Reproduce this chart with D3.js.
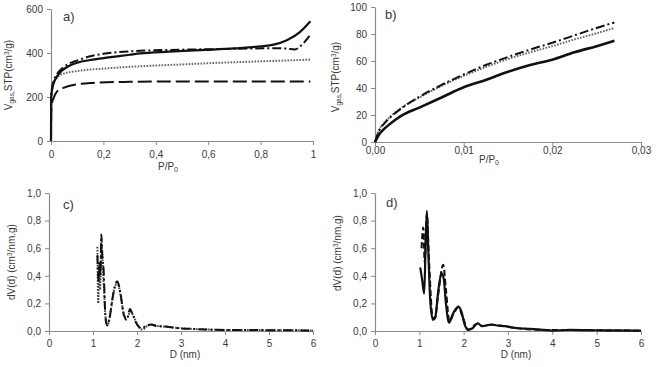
<!DOCTYPE html>
<html><head><meta charset="utf-8">
<script src="https://cdn.jsdelivr.net/npm/d3@7"></script>
<style>
body{margin:0;background:#fff;}
text{font-family:"Liberation Sans",Arial,sans-serif;fill:#3a3a3a;}
</style></head>
<body>
<svg id="chart" width="656" height="367"></svg>
<script>
// ---- Panel a: isotherms (P/P0, V cm3/g)
const aSolid = [[0,0],[0.0005,170],[0.001,205],[0.005,240],[0.01,262],[0.02,288],[0.04,318],[0.06,335],[0.085,350],[0.1,356],[0.15,368],[0.2,377],[0.3,392],[0.34,398],[0.45,406],[0.59,414],[0.7,421],[0.8,430],[0.85,438],[0.9,458],[0.95,495],[0.99,544]];
const aDashDot = [[0,0],[0.0005,180],[0.002,225],[0.01,272],[0.03,315],[0.05,338],[0.085,360],[0.1,366],[0.15,385],[0.21,398],[0.34,410],[0.45,414],[0.59,417],[0.7,419],[0.85,422],[0.9,420],[0.93,416],[0.96,440],[0.99,484]];
const aDotted = [[0,0],[0.0005,150],[0.002,200],[0.009,262],[0.02,285],[0.047,306],[0.1,318],[0.21,330],[0.3,337],[0.4,343],[0.5,348],[0.59,353],[0.7,358],[0.8,362],[0.9,366],[0.99,370]];
const aLongDash = [[0,0],[0.0005,120],[0.003,165],[0.01,195],[0.022,223],[0.05,243],[0.085,255],[0.16,264],[0.3,269],[0.5,271],[0.7,271],[0.99,271]];
const aXTicks = [0,0.2,0.4,0.6,0.8,1];
const aYTicks = [0,200,400,600];

// ---- Panel b: low-pressure isotherms
const bP = [0,0.0005,0.001,0.002,0.003,0.005,0.0075,0.01,0.0125,0.015,0.0175,0.02,0.0225,0.025,0.027];
const bSolid = [0,6,9.5,15,19.5,25.5,33,40.5,46,52,57,61,66.5,71,75];
const bDotted = [0,9.5,13.9,20.4,25.5,33,41.5,49,55.5,61.5,66.5,71,76,80.5,84.5];
const bDashDot = [0,9,13.3,19.9,25,33.5,42.3,50,57,63,68.5,73.5,79,84.5,88.5];
const bXTicks = [0,0.01,0.02,0.03];
const bYTicks = [0,20,40,60,80,100];

// ---- Panel c: pore size distribution
const cDashDot = [[1.1,0.55],[1.13,0.35],[1.15,0.5],[1.17,0.4],[1.19,0.7],[1.21,0.55],[1.24,0.45],[1.28,0.12],[1.32,0.04],[1.38,0.1],[1.45,0.25],[1.55,0.36],[1.62,0.28],[1.7,0.12],[1.77,0.08],[1.84,0.16],[1.9,0.12],[1.98,0.06],[2.1,0.02],[2.2,0.035],[2.32,0.048],[2.45,0.035],[2.65,0.033],[2.8,0.025],[3.0,0.018],[3.3,0.015],[3.6,0.01],[4.0,0.008],[4.5,0.008],[5.0,0.006],[5.5,0.005],[6.0,0.004]];
const cDotted = [[1.1,0.61],[1.12,0.2],[1.14,0.5],[1.16,0.3],[1.19,0.65],[1.22,0.5],[1.25,0.3],[1.3,0.06],[1.34,0.05],[1.4,0.14],[1.48,0.3],[1.56,0.35],[1.63,0.25],[1.72,0.1],[1.78,0.1],[1.85,0.14],[1.92,0.11],[2.0,0.05],[2.12,0.01],[2.25,0.04],[2.35,0.045],[2.5,0.035],[2.7,0.03],[3.0,0.02],[3.5,0.012],[4.0,0.008],[5.0,0.006],[6.0,0.004]];

// ---- Panel d
const dSolid = [[1.02,0.46],[1.06,0.38],[1.11,0.27],[1.14,0.6],[1.17,0.87],[1.2,0.6],[1.25,0.2],[1.31,0.08],[1.36,0.1],[1.43,0.3],[1.5,0.42],[1.55,0.38],[1.6,0.2],[1.67,0.06],[1.75,0.12],[1.88,0.177],[1.95,0.14],[2.02,0.05],[2.1,0.008],[2.2,0.02],[2.32,0.056],[2.41,0.035],[2.5,0.04],[2.63,0.047],[2.75,0.04],[2.93,0.035],[3.1,0.025],[3.23,0.02],[3.5,0.015],[3.8,0.008],[4.0,0.003],[4.4,0.008],[4.8,0.006],[5.2,0.004],[6.0,0.002]];
const dDashed = [[1.05,0.6],[1.09,0.75],[1.12,0.5],[1.17,0.85],[1.22,0.5],[1.3,0.1],[1.35,0.09],[1.42,0.25],[1.54,0.48],[1.6,0.3],[1.68,0.07],[1.78,0.13],[1.88,0.17],[1.98,0.1],[2.1,0.01],[2.32,0.055],[2.42,0.035],[2.63,0.045],[2.93,0.035],[3.23,0.02],[3.8,0.008],[4.4,0.007],[5.0,0.005],[6.0,0.002]];
const cdXTicks = [0,1,2,3,4,5,6];
const cdYTicks = [0,0.2,0.4,0.6,0.8,1.0];

const svg = d3.select("#chart");
const comma = f => v => f(v).replace(".", ",");

function panel(o){
  const x = d3.scaleLinear().domain(o.xd).range([o.l, o.r]);
  const y = d3.scaleLinear().domain(o.yd).range([o.b, o.t]);
  const g = svg.append("g");
  const xa = g.append("g").attr("transform",`translate(0,${o.b})`)
    .call(d3.axisBottom(x).tickValues(o.xt).tickSize(4).tickSizeOuter(0).tickFormat(o.xf).tickPadding(o.xpad));
  const ya = g.append("g").attr("transform",`translate(${o.l},0)`)
    .call(d3.axisLeft(y).tickValues(o.yt).tickSize(4).tickSizeOuter(0).tickFormat(o.yf).tickPadding(4));
  [xa,ya].forEach(a=>{
    a.select(".domain").attr("stroke","#8a8a8a").attr("stroke-width",1.2);
    a.selectAll(".tick line").attr("stroke","#8a8a8a");
    a.selectAll("text").attr("font-size",10).attr("fill","#3a3a3a").style("font-family","Liberation Sans, Arial, sans-serif");
  });
  o.series.forEach(s=>{
    const ln = d3.line().x(d=>x(d[0])).y(d=>y(d[1])).curve(d3.curveMonotoneX);
    g.append("path").datum(s.data).attr("d",ln).attr("fill","none")
      .attr("stroke",s.c||"#111").attr("stroke-width",s.w||2)
      .attr("stroke-dasharray",s.dash||null).attr("stroke-linejoin","round");
  });
  g.append("text").attr("x",o.lab[0]).attr("y",o.lab[1]).attr("font-size",13).attr("fill","#222").text(o.label);
  return {x,y,g};
}

function xTitle(x,y,sub){
  const t = svg.append("text").attr("x",x).attr("y",y).attr("text-anchor","middle").attr("font-size",10);
  if(sub){ t.append("tspan").text("P/P"); t.append("tspan").attr("font-size",7).attr("dy",2).text("0"); }
  else t.text("D (nm)");
}
function yTitleV(x,y){
  const t = svg.append("text").attr("transform",`translate(${x},${y}) rotate(-90)`).attr("text-anchor","middle").attr("font-size",10);
  t.append("tspan").text("V");
  t.append("tspan").attr("font-size",6.5).attr("dy",2).text("gas,");
  t.append("tspan").attr("dy",-2).text("STP(cm");
  t.append("tspan").attr("font-size",6.5).attr("dy",-3).text("3");
  t.append("tspan").attr("dy",3).text("/g)");
}
function yTitleD(x,y){
  const t = svg.append("text").attr("transform",`translate(${x},${y}) rotate(-90)`).attr("text-anchor","middle").attr("font-size",10);
  t.append("tspan").text("dV(d) (cm");
  t.append("tspan").attr("font-size",6.5).attr("dy",-3).text("3");
  t.append("tspan").attr("dy",3).text("/nm.g)");
}

const DD = "9,3,2,3", DOT = "1.6,1.4", LD = "14,5", SD = "6,3";

panel({l:51,r:313,t:9,b:141,xd:[0,1],yd:[0,600],xt:aXTicks,yt:aYTicks,
  xf:v=>String(v).replace(".",","), yf:d3.format("d"), xpad:6,
  label:"a)", lab:[63,21],
  series:[
    {data:aLongDash,dash:LD},
    {data:aDotted,dash:DOT,c:"#666"},
    {data:aDashDot,dash:DD},
    {data:aSolid,w:2.2}
  ]});
xTitle(168,170,true); yTitleV(12,75);

panel({l:375,r:641,t:7,b:142,xd:[0,0.03],yd:[0,100],xt:bXTicks,yt:bYTicks,
  xf:comma(d3.format(".2f")), yf:d3.format("d"), xpad:1,
  label:"b)", lab:[385,19],
  series:[
    {data:bP.map((p,i)=>[p,bDotted[i]]),dash:DOT,c:"#666"},
    {data:bP.map((p,i)=>[p,bDashDot[i]]),dash:DD},
    {data:bP.map((p,i)=>[p,bSolid[i]]),w:2.6}
  ]});
xTitle(489,163,true); yTitleV(339,77);

panel({l:49,r:313,t:193,b:331,xd:[0,6],yd:[0,1],xt:cdXTicks,yt:cdYTicks,
  xf:d3.format("d"), yf:comma(d3.format(".1f")), xpad:5,
  label:"c)", lab:[63,209],
  series:[
    {data:cDotted,dash:DOT,c:"#444"},
    {data:cDashDot,dash:DD}
  ]});
xTitle(185,358,false); yTitleD(15,262);

panel({l:375,r:641,t:193,b:331,xd:[0,6],yd:[0,1],xt:cdXTicks,yt:cdYTicks,
  xf:d3.format("d"), yf:comma(d3.format(".1f")), xpad:5,
  label:"d)", lab:[386,207],
  series:[
    {data:dDashed,dash:SD},
    {data:dSolid,w:2.2}
  ]});
xTitle(516,358,false); yTitleD(341,253);
</script>
</body></html>
